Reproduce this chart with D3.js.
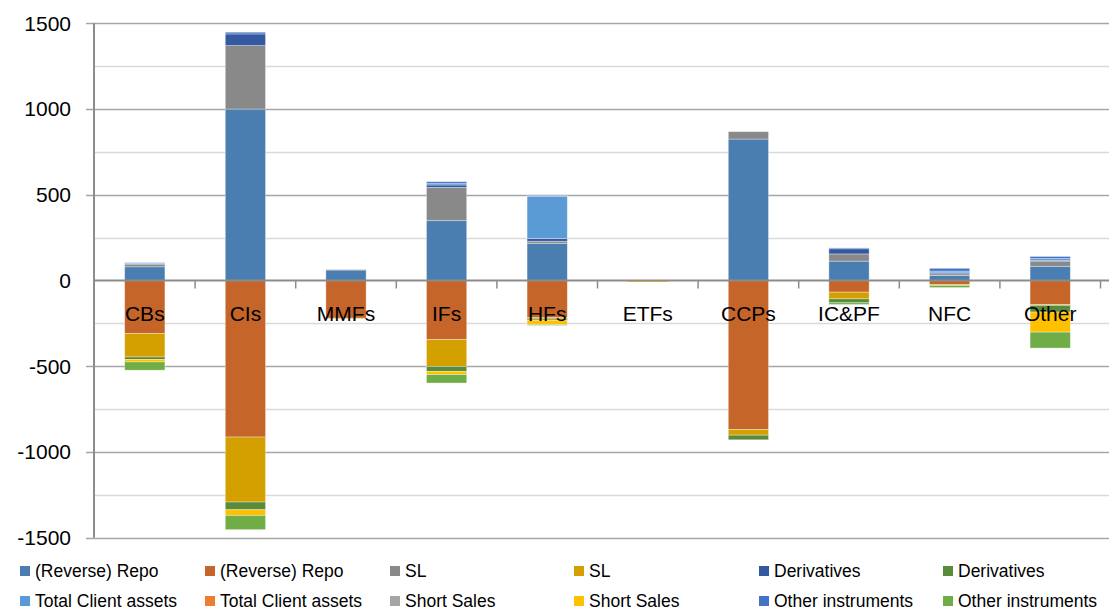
<!DOCTYPE html>
<html>
<head>
<meta charset="utf-8">
<script src="https://cdn.jsdelivr.net/npm/d3@7"></script>
<style>
  body { margin: 0; background: #fff; }
  svg { display: block; font-family: "Liberation Sans", Arial, sans-serif; }
</style>
</head>
<body>
<svg id="chart" width="1109" height="611"></svg>
<script>
// categories
const categories = ["CBs", "CIs", "MMFs", "IFs", "HFs", "ETFs", "CCPs", "IC&PF", "NFC", "Other"];

// positive side (assets)
const repoPos   = [80, 1000, 61, 349, 217, 0, 825, 113, 29, 83];
const slPos     = [15, 370, 3, 194, 12, 0, 43, 42, 10, 30];
const derivPos  = [3, 68, 0, 14, 16, 0, 0, 30, 6, 5];
const clientPos = [5, 0, 0, 8, 246, 0, 0, 0, 10, 10];
const shortPos  = [0, 0, 0, 0, 0, 0, 0, 0, 0, 0];
const otherPos  = [2, 10, 0, 11, 4, 0, 0, 5, 16, 12];

// negative side (liabilities)
const repoNeg   = [-310, -913, -220, -344, -217, 0, -869, -68, -23, -140];
const slNeg     = [-136, -379, -3, -157, -8, 0, -33, -39, -6, -5];
const derivNeg  = [-14, -45, 0, -29, -7, 0, -27, -23, 0, -39];
const clientNeg = [0, 0, 0, 0, 0, 0, 0, 0, 0, 0];
const shortNeg  = [-15, -33, 0, -19, -25, -9, 0, 0, 0, -117];
const otherNeg  = [-48, -83, 0, -49, -5, 0, 0, -10, -12, -93];

const seriesNames = ["(Reverse) Repo", "(Reverse) Repo", "SL", "SL", "Derivatives", "Derivatives",
  "Total Client assets", "Total Client assets", "Short Sales", "Short Sales", "Other instruments", "Other instruments"];
const seriesValues = [repoPos, repoNeg, slPos, slNeg, derivPos, derivNeg,
  clientPos, clientNeg, shortPos, shortNeg, otherPos, otherNeg];
const colors = ["#4a7eb1", "#c5652a", "#898989", "#d3a000", "#3559a0", "#5a8b3a",
  "#5b9bd5", "#ed7d31", "#a5a5a5", "#ffc000", "#4472c4", "#70ad47"];

const yTicks = [-1500, -1000, -500, 0, 500, 1000, 1500];
const yMinor = [-1250, -750, -250, 250, 750, 1250];

const svg = d3.select("#chart");

// scales
const x = d3.scaleBand()
  .domain(categories)
  .range([94.5, 1100.5])
  .paddingInner(0.6)
  .paddingOuter(0.3);

const y = d3.scaleLinear()
  .domain([-1500, 1500])
  .range([537.7, 23.3]);

// build table for the stack
const keys = seriesValues.map((_, i) => "s" + i);
const table = categories.map((c, j) => {
  const row = { cat: c };
  seriesValues.forEach((arr, i) => { row["s" + i] = arr[j]; });
  return row;
});

const stacked = d3.stack()
  .keys(keys)
  .offset(d3.stackOffsetDiverging)(table);

// gridlines
svg.append("g")
  .selectAll("line")
  .data(yMinor)
  .join("line")
  .attr("x1", 94).attr("x2", 1109)
  .attr("y1", d => Math.round(y(d)) + 0.5).attr("y2", d => Math.round(y(d)) + 0.5)
  .attr("stroke", "#d9d9d9")
  .attr("stroke-width", 1.5);

svg.append("g")
  .selectAll("line")
  .data(yTicks.filter(d => d !== 0))
  .join("line")
  .attr("x1", 86).attr("x2", 1109)
  .attr("y1", d => Math.round(y(d)) + 0.5).attr("y2", d => Math.round(y(d)) + 0.5)
  .attr("stroke", "#a6a6a6")
  .attr("stroke-width", 1.5);

// bars
svg.append("g")
  .selectAll("g")
  .data(stacked)
  .join("g")
  .attr("fill", (d, i) => colors[i])
  .selectAll("rect")
  .data(d => d.filter(v => v[1] - v[0] !== 0))
  .join("rect")
  .attr("x", d => x(d.data.cat))
  .attr("width", x.bandwidth())
  .attr("y", d => y(Math.max(d[0], d[1])))
  .attr("height", d => Math.abs(y(d[0]) - y(d[1])))
  .attr("stroke", "#ffffff")
  .attr("stroke-opacity", 0.45)
  .attr("stroke-width", 0.75);

// y axis line
svg.append("line")
  .attr("x1", 94).attr("x2", 94)
  .attr("y1", y(1500)).attr("y2", y(-1500))
  .attr("stroke", "#8c8c8c")
  .attr("stroke-width", 2);

// zero axis
svg.append("line")
  .attr("x1", 94).attr("x2", 1109)
  .attr("y1", y(0)).attr("y2", y(0))
  .attr("stroke", "#8c8c8c")
  .attr("stroke-width", 2);

// category ticks at band boundaries
const bounds = categories.slice(1).map(c => x(c) - (x.step() - x.bandwidth()) / 2);
bounds.push(x(categories[categories.length - 1]) + x.bandwidth() + (x.step() - x.bandwidth()) / 2);
svg.append("g")
  .selectAll("line")
  .data(bounds)
  .join("line")
  .attr("x1", d => d).attr("x2", d => d)
  .attr("y1", y(0)).attr("y2", y(0) + 8)
  .attr("stroke", "#8c8c8c")
  .attr("stroke-width", 1.5);

// y tick labels
svg.append("g")
  .selectAll("text")
  .data(yTicks)
  .join("text")
  .attr("x", 71)
  .attr("y", d => y(d))
  .attr("dy", "0.35em")
  .attr("text-anchor", "end")
  .attr("font-size", 21)
  .attr("fill", "#000")
  .text(d => d);

// category labels
svg.append("g")
  .selectAll("text")
  .data(categories)
  .join("text")
  .attr("x", d => x(d) + x.bandwidth() / 2)
  .attr("y", y(0) + 40)
  .attr("text-anchor", "middle")
  .attr("font-size", 21)
  .attr("fill", "#000")
  .text(d => d);

// legend, laid out row-wise: first six series in row one
const legendCols = [20, 205, 390, 574, 759, 943];
const legendRows = [571, 601];
const legend = svg.append("g")
  .selectAll("g")
  .data(seriesNames)
  .join("g")
  .attr("transform", (d, i) => `translate(${legendCols[i % 6]},${legendRows[i < 6 ? 0 : 1]})`);

legend.append("rect")
  .attr("x", 0).attr("y", -5)
  .attr("width", 10).attr("height", 10)
  .attr("fill", (d, i) => colors[i]);

legend.append("text")
  .attr("x", 15)
  .attr("dy", "0.35em")
  .attr("font-size", 17.5)
  .attr("fill", "#000")
  .text(d => d);
</script>
</body>
</html>
